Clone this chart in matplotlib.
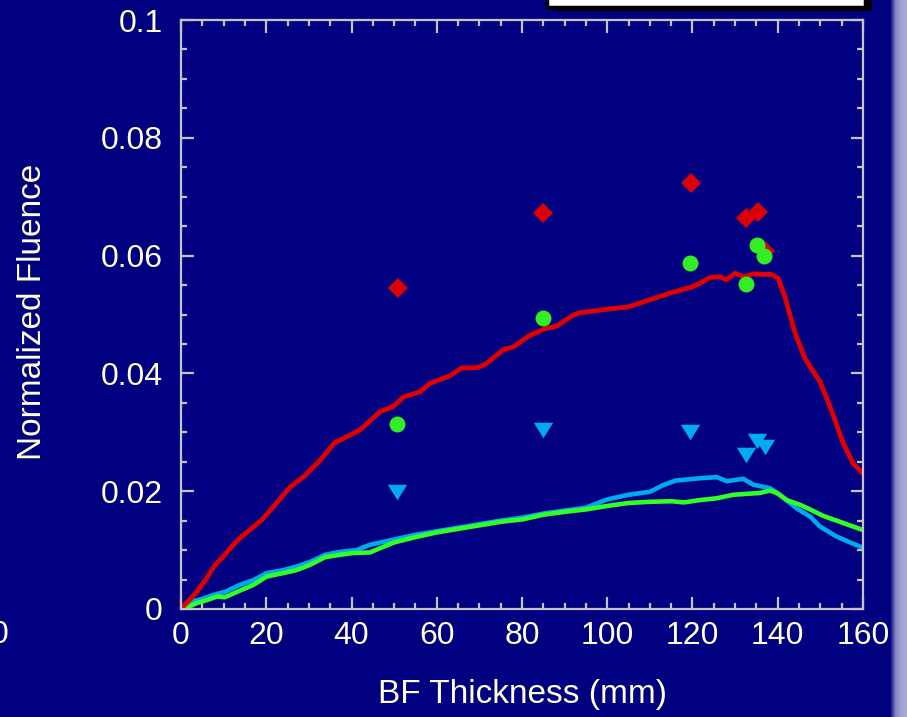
import numpy as np
import matplotlib
matplotlib.use("Agg")
import matplotlib.pyplot as plt
from matplotlib.patches import Rectangle
from matplotlib.colors import LinearSegmentedColormap

# calculated curves (BF thickness in mm, normalized fluence)
red_x = [0, 0.5, 3.7, 6.0, 8.0, 9.9, 11.9, 14.2, 16.6, 18.9, 21, 25.6, 29, 32.6, 36, 39.6,
         42, 46.7, 49.8, 52.2, 56.1, 58.4, 63.1, 65.8, 69.7, 71.7, 75.6, 78.0, 81.9, 85.8,
         88.1, 92.0, 93.6, 100, 105, 110, 115, 120, 121.8, 124.1, 126.5, 128, 130, 132,
         134.3, 136.6, 138.5, 140.1, 141.7, 144, 146.4, 150, 152.3, 155.4, 157.7, 160]
red_y = [0, 0.0004, 0.0029, 0.0052, 0.0075, 0.0089, 0.0106, 0.0123, 0.0137, 0.0151, 0.0168,
         0.0207, 0.0226, 0.0252, 0.0282, 0.0295, 0.0304, 0.0335, 0.0344, 0.0360, 0.0369,
         0.0383, 0.0396, 0.0409, 0.0410, 0.0417, 0.0440, 0.0445, 0.0465, 0.0477, 0.0480,
         0.0499, 0.0503, 0.0509, 0.0513, 0.0525, 0.0537, 0.0547, 0.0553, 0.0563, 0.0564,
         0.0559, 0.0570, 0.0564, 0.0569, 0.0568, 0.0568, 0.0561, 0.0530, 0.0470, 0.0425,
         0.0385, 0.0343, 0.0281, 0.0247, 0.0230]

blue_x = [0, 2.1, 4.9, 7.6, 10.3, 13.8, 17.0, 20.1, 24, 27.1, 30.3, 33.8, 37.3, 41.2, 44.3,
          50, 55, 60, 65, 70, 75, 80, 85, 90, 95, 100, 105, 110, 113, 116, 121.8, 125.7,
          128, 131.9, 134.3, 138.2, 140.5, 144.4, 147.6, 149.9, 153.8, 157, 160]
blue_y = [0, 0.0012, 0.0017, 0.0024, 0.0029, 0.0041, 0.0049, 0.0061, 0.0066, 0.0072, 0.0080,
          0.0092, 0.0097, 0.0100, 0.0109, 0.0118, 0.0126, 0.0132, 0.0138, 0.0144, 0.0150,
          0.0155, 0.0162, 0.0167, 0.0172, 0.0186, 0.0194, 0.0199, 0.0210, 0.0218, 0.0222,
          0.0224, 0.0217, 0.0221, 0.0211, 0.0205, 0.0194, 0.0171, 0.0157, 0.0140, 0.0123,
          0.0113, 0.0104]

green_x = [0, 1.3, 3.7, 6.0, 8.4, 10.3, 13.1, 17.0, 20.1, 24, 27.1, 30.3, 33.8, 37.3, 40.4,
           44.3, 50, 55, 60, 65, 70, 75, 80, 85, 90, 95, 100, 105, 110, 115, 118, 121.8,
           125.7, 129.6, 135.8, 138.2, 139.8, 142.1, 145.2, 147.6, 150.7, 154.6, 160]
green_y = [0, 0.0002, 0.0010, 0.0015, 0.0021, 0.0020, 0.0029, 0.0041, 0.0055, 0.0061, 0.0066,
           0.0075, 0.0088, 0.0092, 0.0095, 0.0096, 0.0113, 0.0122, 0.0130, 0.0136, 0.0142,
           0.0148, 0.0152, 0.0160, 0.0165, 0.0169, 0.0175, 0.0180, 0.0182, 0.0183, 0.0181,
           0.0185, 0.0188, 0.0194, 0.0197, 0.0201, 0.0197, 0.0185, 0.0177, 0.0169, 0.0158,
           0.0148, 0.0134]

# measured points
dia_x = [50.9, 84.9, 119.6, 132.6, 135.4, 137.0]
dia_y = [0.0545, 0.0672, 0.0723, 0.0664, 0.0674, 0.0607]
circ_x = [50.7, 84.9, 119.4, 132.6, 135.1, 136.8]
circ_y = [0.0314, 0.0494, 0.0587, 0.0552, 0.0618, 0.0599]
tri_x = [50.7, 84.9, 119.4, 132.6, 135.1, 137.0]
tri_y = [0.0199, 0.0304, 0.0300, 0.0261, 0.0285, 0.0275]

x_ticks = [0, 20, 40, 60, 80, 100, 120, 140, 160]
y_ticks = [0, 0.02, 0.04, 0.06, 0.08, 0.1]
y_tick_labels = ["0", "0.02", "0.04", "0.06", "0.08", "0.1"]

navy = "#000080"
cream = "#ffffd8"
frame = "#c4c4c4"
plt.rcParams["font.family"] = ["Liberation Sans", "DejaVu Sans"]

W, H = 907, 717
fig = plt.figure(figsize=(W / 100, H / 100), dpi=100, facecolor=navy)


def fx(px):
    return px / W


def fy(py):
    return 1 - py / H


ax = fig.add_axes([fx(181), fy(609), fx(863) - fx(181), fy(20) - fy(609)])
ax.set_facecolor(navy)

ax.plot(blue_x, blue_y, color="#00aaee", lw=3.3, solid_joinstyle="round")
ax.plot(green_x, green_y, color="#33ff22", lw=3.3, solid_joinstyle="round")
ax.plot(red_x, red_y, color="#e00000", lw=3.5, solid_joinstyle="round")

tri = [(-1, 0.8), (1, 0.8), (0, -0.8)]
ax.plot(dia_x, dia_y, "D", color="#dd0000", ms=10, mew=0, ls="none")
ax.plot(circ_x, circ_y, "o", color="#33ee22", ms=11.5, mew=0, ls="none")
ax.plot(tri_x, tri_y, marker=tri, color="#00aaee", ms=14, mew=0, ls="none")

ax.set_xlim(0, 160)
ax.set_ylim(0, 0.1)
ax.set_xticks(x_ticks)
ax.set_xticks(np.arange(0, 161, 5), minor=True)
ax.set_yticks(y_ticks)
ax.set_yticklabels(y_tick_labels)
ax.set_yticks(np.arange(0, 0.1001, 0.005), minor=True)

for s in ax.spines.values():
    s.set_color(frame)
    s.set_linewidth(1.6)
ax.tick_params(which="both", direction="in", top=True, right=True,
               color=frame, width=1.6, labelcolor=cream, labelsize=23)
ax.tick_params(which="major", length=9)
ax.tick_params(which="minor", length=4.5)
ax.tick_params(axis="x", pad=9)
ax.tick_params(axis="y", pad=13)

fig.text(fx(522), fy(694), "BF Thickness (mm)", color=cream, fontsize=24,
         ha="center", va="center")
fig.text(fx(33), fy(312), "Normalized Fluence", color=cream, fontsize=24,
         ha="center", va="center", rotation=90)
# leftover label from neighbouring chart (cut off in the slide too)
fig.text(0.0, fy(635), "0", color=cream, fontsize=23, ha="center", va="center")

# cropped legend box at the top
fig.add_artist(Rectangle((fx(553), fy(11)), fx(872) - fx(553), fy(-5) - fy(11),
                         transform=fig.transFigure, facecolor="black", edgecolor="none"))
fig.add_artist(Rectangle((fx(547), fy(7)), fx(865) - fx(547), fy(-10) - fy(7),
                         transform=fig.transFigure, facecolor="white", edgecolor="black",
                         linewidth=2.5))

# slide edge on the right
bar = fig.add_axes([fx(890), 0, 1 - fx(890), 1])
bar.axis("off")
cmap = LinearSegmentedColormap.from_list("edge", [navy, "#8888c4", "#a4a4d2", "#a8a8d4"])
bar.imshow(np.linspace(0, 1, 60).reshape(1, -1), aspect="auto", cmap=cmap,
           extent=[0, 1, 0, 1])

fig.savefig("out.png", dpi=100, facecolor=navy)
